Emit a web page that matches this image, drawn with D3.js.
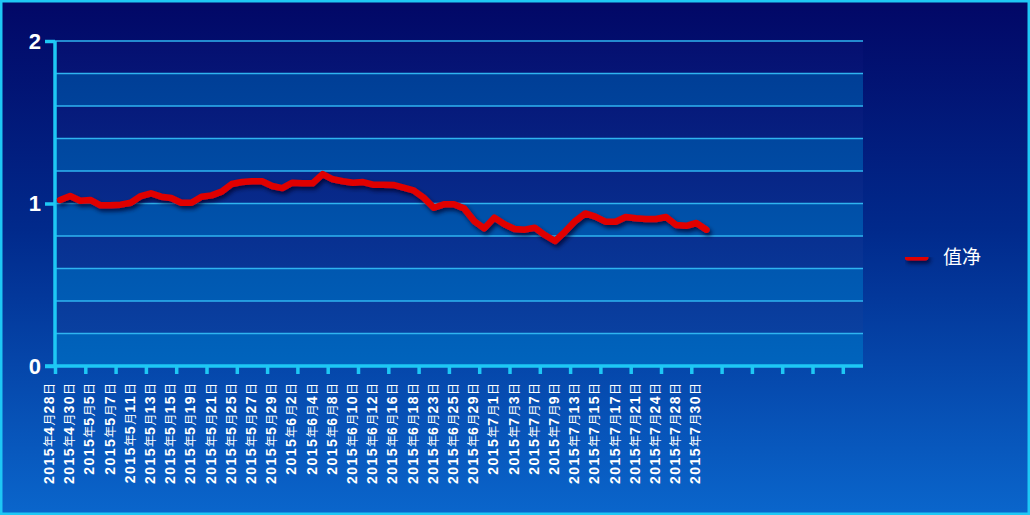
<!DOCTYPE html>
<html>
<head>
<meta charset="utf-8">
<script src="https://cdn.jsdelivr.net/npm/d3@7"></script>
<style>
  html, body { margin: 0; padding: 0; background: #000866; }
  svg { display: block; }
</style>
</head>
<body>
<svg id="chart" width="1030" height="515"></svg>
<script>
// ---------- DATA ----------
const categories = [
  "2015年4月28日","2015年4月29日","2015年4月30日","2015年5月4日","2015年5月5日","2015年5月6日",
  "2015年5月7日","2015年5月8日","2015年5月11日","2015年5月12日","2015年5月13日","2015年5月14日",
  "2015年5月15日","2015年5月18日","2015年5月19日","2015年5月20日","2015年5月21日","2015年5月22日",
  "2015年5月25日","2015年5月26日","2015年5月27日","2015年5月28日","2015年5月29日","2015年6月1日",
  "2015年6月2日","2015年6月3日","2015年6月4日","2015年6月5日","2015年6月8日","2015年6月9日",
  "2015年6月10日","2015年6月11日","2015年6月12日","2015年6月15日","2015年6月16日","2015年6月17日",
  "2015年6月18日","2015年6月19日","2015年6月23日","2015年6月24日","2015年6月25日","2015年6月26日",
  "2015年6月29日","2015年6月30日","2015年7月1日","2015年7月2日","2015年7月3日","2015年7月6日",
  "2015年7月7日","2015年7月8日","2015年7月9日","2015年7月10日","2015年7月13日","2015年7月14日",
  "2015年7月15日","2015年7月16日","2015年7月17日","2015年7月20日","2015年7月21日","2015年7月22日",
  "2015年7月24日","2015年7月27日","2015年7月28日","2015年7月29日","2015年7月30日"
];
const netValues = [
  1.022, 1.046, 1.017, 1.022, 0.989, 0.989, 0.993, 1.005, 1.046, 1.063,
  1.042, 1.034, 1.005, 1.005, 1.042, 1.050, 1.073, 1.120, 1.132, 1.137,
  1.137, 1.108, 1.095, 1.128, 1.124, 1.124, 1.181, 1.149, 1.137, 1.128,
  1.132, 1.116, 1.116, 1.114, 1.098, 1.081, 1.036, 0.974, 0.995, 0.995,
  0.970, 0.892, 0.847, 0.913, 0.872, 0.843, 0.839, 0.851, 0.806, 0.769,
  0.827, 0.892, 0.939, 0.919, 0.888, 0.888, 0.917, 0.909, 0.905, 0.905,
  0.917, 0.868, 0.863, 0.880, 0.839
];
const seriesName = "值净";
const yTickValues = [0, 1, 2];
const yGridValues = [0.2, 0.4, 0.6, 0.8, 1.0, 1.2, 1.4, 1.6, 1.8, 2.0];
const yDomain = [0, 2];
const slotCount = 80;      // category slots on the axis (data fills the first ones)
const tickEvery = 3;       // tick mark interval (categories)
const labelEvery = 2;      // label interval (categories)

// ---------- LAYOUT ----------
const W = 1030, H = 515;
const plot = { left: 55, right: 863, top: 41, bottom: 366 };

const svg = d3.select("#chart");
const defs = svg.append("defs");

const bgGrad = defs.append("linearGradient").attr("id", "bg")
  .attr("x1", 0).attr("y1", 0).attr("x2", 0).attr("y2", 1);
bgGrad.append("stop").attr("offset", "0%").attr("stop-color", "#020766");
bgGrad.append("stop").attr("offset", "45%").attr("stop-color", "#012a8c");
bgGrad.append("stop").attr("offset", "100%").attr("stop-color", "#0a66cc");

const darkGrad = defs.append("linearGradient").attr("id", "darkBand")
  .attr("gradientUnits", "userSpaceOnUse")
  .attr("x1", 0).attr("y1", plot.top).attr("x2", 0).attr("y2", plot.bottom);
darkGrad.append("stop").attr("offset", "0%").attr("stop-color", "#050f70");
darkGrad.append("stop").attr("offset", "100%").attr("stop-color", "#0a46a6");

const lightGrad = defs.append("linearGradient").attr("id", "lightBand")
  .attr("gradientUnits", "userSpaceOnUse")
  .attr("x1", 0).attr("y1", plot.top).attr("x2", 0).attr("y2", plot.bottom);
lightGrad.append("stop").attr("offset", "0%").attr("stop-color", "#003a92");
lightGrad.append("stop").attr("offset", "100%").attr("stop-color", "#0064bd");

const shadow = defs.append("filter").attr("id", "shadow")
  .attr("filterUnits", "userSpaceOnUse")
  .attr("x", 0).attr("y", 0).attr("width", W).attr("height", H);
shadow.append("feDropShadow").attr("dx", 2).attr("dy", 3).attr("stdDeviation", 2)
  .attr("flood-color", "#000028").attr("flood-opacity", 0.75);

// background + frame
svg.append("rect").attr("x", 0).attr("y", 0).attr("width", W).attr("height", H)
  .attr("fill", "url(#bg)");
svg.append("rect").attr("x", 1.25).attr("y", 1.25).attr("width", W - 2.5).attr("height", H - 2.5)
  .attr("fill", "none").attr("stroke", "#1ec8f5").attr("stroke-width", 2.5);

// ---------- SCALES ----------
const xs = d3.scaleLinear().domain([0, slotCount]).range([plot.left, plot.right]);
const y = d3.scaleLinear().domain(yDomain).range([plot.bottom, plot.top]);
const xc = i => xs(i + 0.5);

// plot area bands
const g = svg.append("g");
g.append("rect").attr("x", plot.left).attr("y", plot.top)
  .attr("width", plot.right - plot.left).attr("height", plot.bottom - plot.top)
  .attr("fill", "url(#darkBand)");
const bandEdges = [0].concat(yGridValues);
const lightBands = d3.range(0, bandEdges.length - 1, 2).map(k => [bandEdges[k], bandEdges[k + 1]]);
g.selectAll("rect.band").data(lightBands).join("rect").attr("class", "band")
  .attr("x", plot.left).attr("width", plot.right - plot.left)
  .attr("y", d => y(d[1])).attr("height", d => y(d[0]) - y(d[1]))
  .attr("fill", "url(#lightBand)");

// gridlines
g.selectAll("line.grid").data(yGridValues).join("line").attr("class", "grid")
  .attr("x1", plot.left).attr("x2", plot.right)
  .attr("y1", d => y(d)).attr("y2", d => y(d))
  .attr("stroke", "#2fb4f0").attr("stroke-width", 1.5);

// ---------- AXES ----------
const yAxis = d3.axisLeft(y).tickValues(yTickValues).tickSize(10).tickPadding(4)
  .tickFormat(d3.format("d"));
const yg = svg.append("g").attr("transform", `translate(${plot.left},0)`).call(yAxis);
yg.select(".domain").attr("stroke", "#1ec8f5").attr("stroke-width", 3.5)
  .attr("d", `M0,${plot.top}V${plot.bottom}`);
yg.selectAll(".tick line").attr("stroke", "#1ec8f5").attr("stroke-width", 3.5);
yg.selectAll(".tick text").attr("fill", "#ffffff")
  .attr("font-family", "'Liberation Sans', Arial, sans-serif")
  .attr("font-weight", "bold").attr("font-size", 22).attr("x", -14);

const xAxis = d3.axisBottom(xs).tickValues(d3.range(0, slotCount, tickEvery))
  .tickSize(8).tickFormat("");
const xg = svg.append("g").attr("transform", `translate(0,${plot.bottom})`).call(xAxis);
xg.select(".domain").attr("stroke", "#1ec8f5").attr("stroke-width", 3.5)
  .attr("d", `M${plot.left - 10},0H${plot.right}`);
xg.selectAll(".tick line").attr("stroke", "#1ec8f5").attr("stroke-width", 3.5);

// category labels (rotated, every other category)
const labelIdx = d3.range(0, categories.length, labelEvery);
const labels = svg.append("g").selectAll("text").data(labelIdx).join("text")
  .attr("transform", i => `translate(${xs(i) - 6},383) rotate(-90)`)
  .attr("dy", 5)
  .attr("text-anchor", "end")
  .attr("fill", "#ffffff");
labels.each(function (i) {
  const t = d3.select(this);
  const runs = categories[i].match(/[0-9]+|[^0-9]+/g);
  runs.forEach(r => {
    const isNum = /^[0-9]+$/.test(r);
    t.append("tspan").text(r)
      .attr("font-family", isNum ? "'Liberation Sans', Arial, sans-serif" : "'Noto Sans CJK SC', sans-serif")
      .attr("font-weight", isNum ? "bold" : "normal")
      .attr("font-size", isNum ? 14 : 12)
      .attr("letter-spacing", isNum ? 1.5 : 0);
  });
});

// ---------- LINE ----------
const line = d3.line().x((d, i) => xc(i)).y(d => y(d));
svg.append("path").datum(netValues)
  .attr("d", line)
  .attr("fill", "none")
  .attr("stroke", "#e00000")
  .attr("stroke-width", 6.5)
  .attr("stroke-linejoin", "round")
  .attr("stroke-linecap", "round")
  .attr("filter", "url(#shadow)");

// ---------- LEGEND ----------
const lg = svg.append("g").attr("transform", "translate(905,257)");
lg.append("path").attr("d", "M3,0H20")
  .attr("fill", "none")
  .attr("stroke", "#e00000").attr("stroke-width", 7).attr("stroke-linecap", "round")
  .attr("filter", "url(#shadow)");
lg.append("text").attr("x", 38).attr("dy", "0.36em").text(seriesName)
  .attr("fill", "#ffffff").attr("font-size", 19)
  .attr("font-family", "'Noto Sans CJK SC', sans-serif");
</script>
</body>
</html>
